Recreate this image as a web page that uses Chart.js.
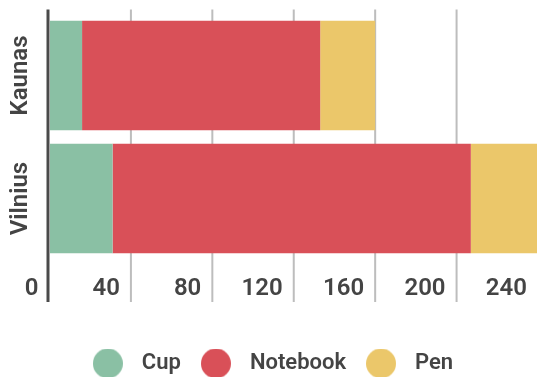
<!DOCTYPE html>
<html>
<head>
<meta charset="utf-8">
<script src="https://cdn.jsdelivr.net/npm/chart.js@4/dist/chart.umd.min.js"></script>
<style>
  html, body { margin: 0; padding: 0; background: #ffffff; overflow: hidden; }
  #wrap { width: 537px; height: 377px; overflow: hidden; }
</style>
</head>
<body>
<div id="wrap"><canvas id="c" width="538" height="377"></canvas></div>
<script>
// ---- data ----
const categories = ['Kaunas', 'Vilnius'];
const seriesNames = ['Cup', 'Notebook', 'Pen'];
const cupValues = [16, 31];
const notebookValues = [117, 176];
const penValues = [27, 45];
const xTicks = [0, 40, 80, 120, 160, 200, 240];

// ---- style ----
const colors = ['#8ac0a4', '#d95058', '#ebc76a'];
const textColor = '#444444';
const fontWeight = 600;

Chart.defaults.font.family = 'Roboto, "Noto Sans", sans-serif';
Chart.defaults.font.weight = fontWeight;
Chart.defaults.color = textColor;

function makeDot(color) {
  const c = document.createElement('canvas');
  c.width = 30; c.height = 30;
  const g = c.getContext('2d');
  g.fillStyle = color;
  g.beginPath();
  g.arc(15, 15, 15, 0, Math.PI * 2);
  g.fill();
  return c;
}
const dots = colors.map(makeDot);

const gridPlugin = {
  id: 'customGrid',
  beforeDatasetsDraw(chart) {
    const {ctx, chartArea, scales} = chart;
    const xs = scales.x;
    ctx.save();
    ctx.strokeStyle = '#bdbdbd';
    ctx.lineWidth = 2;
    xs.ticks.forEach(t => {
      if (t.value === 0) return;
      const x = xs.getPixelForValue(t.value);
      ctx.beginPath();
      ctx.moveTo(x, chartArea.top - 4.5);
      ctx.lineTo(x, chartArea.bottom + 42);
      ctx.stroke();
    });
    ctx.restore();
  },
  afterDatasetsDraw(chart) {
    const {ctx, chartArea, scales} = chart;
    const x0 = scales.x.getPixelForValue(0) - 1.5;
    ctx.save();
    ctx.strokeStyle = '#4a4a4a';
    ctx.lineWidth = 3;
    ctx.beginPath();
    ctx.moveTo(x0, chartArea.top - 4.5);
    ctx.lineTo(x0, chartArea.bottom + 42);
    ctx.stroke();
    ctx.restore();
  }
};

const values = [cupValues, notebookValues, penValues];

new Chart(document.getElementById('c'), {
  type: 'bar',
  data: {
    labels: categories,
    datasets: seriesNames.map((name, i) => ({
      label: name,
      data: values[i],
      backgroundColor: colors[i],
      borderWidth: 0,
      categoryPercentage: 0.89,
      barPercentage: 1.0
    }))
  },
  options: {
    indexAxis: 'y',
    responsive: false,
    animation: false,
    events: [],
    layout: { padding: { top: 14, left: 0, right: 0, bottom: -7.5 } },
    scales: {
      x: {
        type: 'linear',
        stacked: true,
        min: 0,
        max: 240,
        grid: {
          display: true,
          drawOnChartArea: false,
          drawTicks: true,
          tickLength: 14.5,
          tickColor: 'rgba(0,0,0,0)'
        },
        border: { display: false },
        afterBuildTicks(scale) { scale.ticks = xTicks.map(v => ({ value: v })); },
        afterFit(scale) { scale.height = 80.5; },
        ticks: {
          align: 'end',
          labelOffset: -11,
          padding: 0,
          maxRotation: 0,
          autoSkip: false,
          color: textColor,
          font: { size: 24, weight: fontWeight }
        }
      },
      y: {
        stacked: true,
        grid: { display: false },
        border: { display: false },
        afterFit(scale) { scale.width = 49.5; },
        ticks: {
          minRotation: 90,
          maxRotation: 90,
          crossAlign: 'center',
          padding: -20,
          color: textColor,
          font: { size: 24, weight: fontWeight }
        }
      }
    },
    plugins: {
      tooltip: { enabled: false },
      legend: {
        position: 'bottom',
        labels: {
          usePointStyle: true,
          pointStyleWidth: 46,
          boxHeight: 21,
          padding: 12,
          color: textColor,
          font: { size: 22, weight: fontWeight },
          generateLabels(chart) {
            const items = Chart.defaults.plugins.legend.labels.generateLabels(chart);
            items.forEach((it, i) => { it.pointStyle = dots[i]; });
            return items;
          }
        }
      }
    }
  },
  plugins: [gridPlugin]
});
</script>
</body>
</html>
